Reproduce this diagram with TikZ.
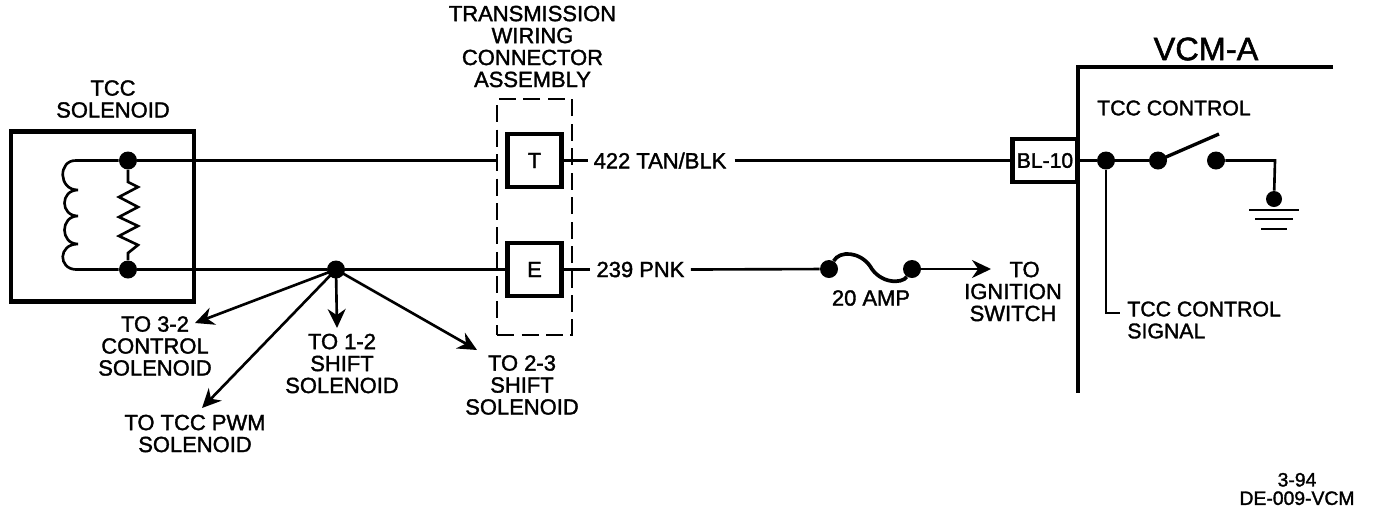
\documentclass[tikz,border=0pt]{standalone}
\usepackage{fontspec}
\setmainfont[FakeBold=1.6]{Liberation Sans}
\usetikzlibrary{arrows.meta}

\begin{document}
\begin{tikzpicture}[x=0.02cm,y=-0.02cm]
  \tikzset{wire/.style={line width=1.5pt},
    heavy/.style={line width=2.7pt},
    lbl/.style={inner sep=0pt,align=center,font=\fontsize{12.5}{12.5}\selectfont},
    dot/.style={circle,fill=black,inner sep=0pt,minimum size=0.36cm},
    pinbox/.style={draw,line width=2.8pt,inner sep=0pt,minimum width=1.08cm,
      minimum height=1.06cm,font=\fontsize{12.5}{12.5}\selectfont},
    toarrow/.style={wire,-{Stealth[length=0.38cm,width=0.36cm]}}}

  \useasboundingbox (0,0) rectangle (1376,512);

  %% Solenoid box with the coil and the resistor in it
  \node[draw,heavy,minimum width=3.66cm,minimum height=3.4cm] (solbox) at (102.5,216.5) {};
  \node[lbl] (sollabel) at (113,99) {TCC\\SOLENOID};
  \node[dot] (soltop) at (128,160.5) {};
  \node[dot] (solbot) at (128,269.5) {};
  \draw[wire] (soltop) -- (76,160.5)
    .. controls (58,160) and (58,190) .. (78,190)
    .. controls (60,190) and (60,216) .. (78,216)
    .. controls (60,216) and (60,244) .. (78,244)
    .. controls (58,244) and (58,269) .. (76,269.5) -- (solbot);
  \draw[wire] (soltop) -- (128,182) -- (138,187) -- (119,197) -- (138,207) -- (119,217)
    -- (138,226) -- (119,236) -- (138,245) -- (128,253) -- (solbot);

  %% Connector assembly; the two pins sit in a dashed frame
  \node[lbl] (asmlabel) at (532.5,46.5) {TRANSMISSION\\WIRING\\CONNECTOR\\ASSEMBLY};
  \node[draw,wire,dash pattern=on 0.34cm off 0.15cm,minimum width=1.5cm,minimum height=4.72cm] (frame) at (534.5,217) {};
  \node[pinbox] (tpin) at (534.5,160.5) {T};
  \node[pinbox] (epin) at (534.5,269.5) {E};
  \coordinate (tstub) at (frame.west |- tpin);
  \coordinate (tout) at (588,160.5);
  \coordinate (eout) at (590,269.5);
  \draw[wire] (soltop) -- (tstub);
  \draw[wire] (tpin) -- (tout);

  %% Lower wire and its branches
  \node[dot] (junction) at (336,269.5) {};
  \draw[wire] (solbot) -- (junction) -- (epin);
  \draw[wire] (epin) -- (eout);
  \coordinate (to32) at (195,323);
  \coordinate (topwm) at (202,408);
  \coordinate (to12) at (337,328);
  \coordinate (to23) at (477,350);
  \foreach \target in {to32,topwm,to12,to23}
    \draw[toarrow] (junction.center) -- (\target);
  \node[lbl] (l32) at (155,346) {TO 3-2\\CONTROL\\SOLENOID};
  \node[lbl] (l12) at (342,363.5) {TO 1-2\\SHIFT\\SOLENOID};
  \node[lbl] (l23) at (522,385) {TO 2-3\\SHIFT\\SOLENOID};
  \node[lbl] (lpwm) at (195,433.5) {TO TCC PWM\\SOLENOID};

  %% Wire labels, the fuse and the way to the ignition switch
  \node[lbl] (tanlabel) at (660,160.5) {422 TAN/BLK};
  \node[lbl] (pnklabel) at (640.5,269.5) {239 PNK};
  \node[draw,line width=2.8pt,inner sep=0pt,minimum width=1.3cm,minimum height=0.86cm,
    font=\fontsize{12}{12}\selectfont] (blten) at (1045,160.5) {BL-10};
  \draw[wire] (tanlabel.east) ++(0.16cm,0) -- (blten);
  \node[dot] (fusea) at (829,269) {};
  \node[dot] (fuseb) at (912,269) {};
  \draw[wire] (pnklabel.east) ++(0.12cm,0) -- (fusea);
  \draw[line width=2.1pt] (fusea) .. controls (840,250) and (860,252) .. (870,266)
    .. controls (880,284) and (902,284) .. (fuseb);
  \node[lbl] (fuselabel) at (871,298) {20 AMP};
  \coordinate (ignend) at (991,269);
  \draw[toarrow] (fuseb) -- (ignend);
  \node[lbl] (ignlabel) at (1013,291.5) {\hphantom{IG}TO\\IGNITION\\SWITCH};

  %% VCM side: outline, switch and ground
  \coordinate (vcmcorner) at (1078,67);
  \coordinate (vcmright) at (1333,67);
  \coordinate (vcmbottom) at (1078,393);
  \draw[heavy] (vcmright) -- (vcmcorner) -- (vcmbottom);
  \node[lbl,font=\fontsize{18.5}{18.5}\selectfont] (vcmlabel) at (1206,49) {VCM-A};
  \node[lbl,font=\fontsize{12.1}{12.1}\selectfont] (ctrllabel) at (1174,108) {TCC CONTROL};
  \node[dot] (sigdot) at (1106,160.5) {};
  \node[dot] (swa) at (1158,160.5) {};
  \node[dot] (swb) at (1216,160.5) {};
  \coordinate (swarm) at (1219,134);
  \coordinate (gndturn) at (1275,160.5);
  \node[dot,minimum size=0.32cm] (gnddot) at (1274,199) {};
  \draw[wire] (blten) -- (sigdot) -- (swa);
  \draw[line width=1.9pt] (swa.center) -- (swarm);
  \draw[wire] (swb) -- (gndturn) -- (gnddot);
  \coordinate (sigturn) at (1106,313);
  \coordinate (sigend) at (1120,313);
  \draw[wire] (sigdot) -- (sigturn) -- (sigend);
  \node[lbl,align=left,anchor=west,font=\fontsize{12.1}{12.5}\selectfont] (siglabel) at (1127,320) {TCC CONTROL\\SIGNAL};
  \foreach \half/\ypos in {25/210, 19/219, 13/229}
    \draw[line width=1.5pt] (1274-\half,\ypos) -- (1274+\half,\ypos);

  %% Drawing number
  \node[lbl,font=\fontsize{11}{10.5}\selectfont] (dwgno) at (1297,489) {3-94\\DE-009-VCM};
\end{tikzpicture}
\end{document}
